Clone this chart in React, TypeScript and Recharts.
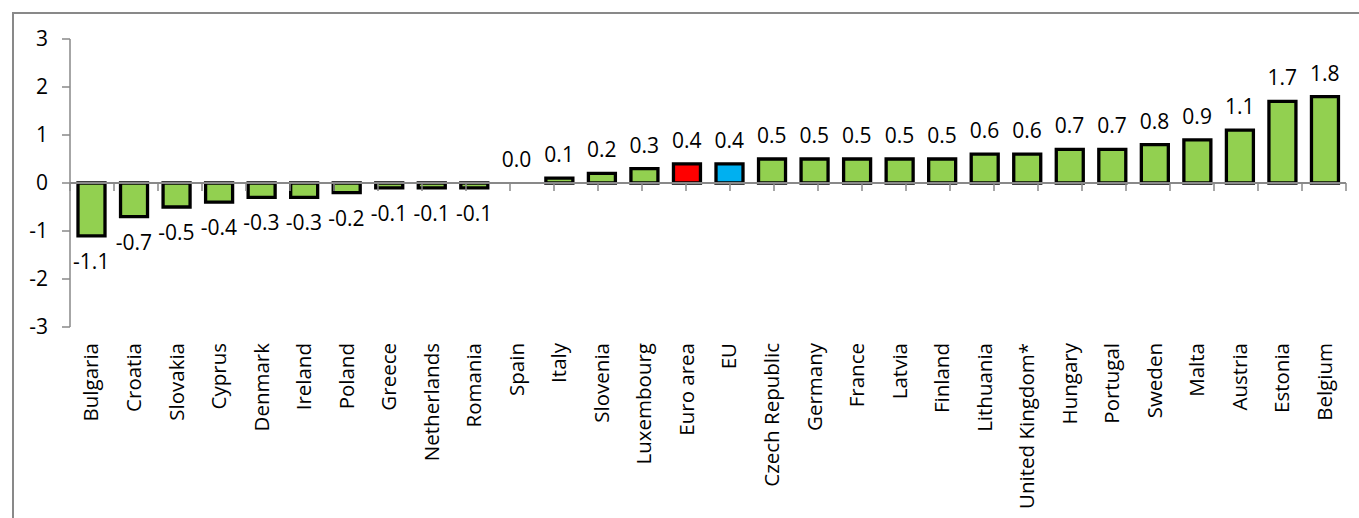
import React from 'react';
import { ComposedChart, Bar, Line, XAxis, YAxis, Cell, ReferenceLine } from 'recharts';

const categories = [
  'Bulgaria', 'Croatia', 'Slovakia', 'Cyprus', 'Denmark', 'Ireland', 'Poland', 'Greece',
  'Netherlands', 'Romania', 'Spain', 'Italy', 'Slovenia', 'Luxembourg', 'Euro area', 'EU',
  'Czech Republic', 'Germany', 'France', 'Latvia', 'Finland', 'Lithuania', 'United Kingdom*',
  'Hungary', 'Portugal', 'Sweden', 'Malta', 'Austria', 'Estonia', 'Belgium',
];
const values = [
  -1.1, -0.7, -0.5, -0.4, -0.3, -0.3, -0.2, -0.1,
  -0.1, -0.1, 0.0, 0.1, 0.2, 0.3, 0.4, 0.4,
  0.5, 0.5, 0.5, 0.5, 0.5, 0.6, 0.6,
  0.7, 0.7, 0.8, 0.9, 1.1, 1.7, 1.8,
];
const yTicks = [-3, -2, -1, 0, 1, 2, 3];
const highlightColors: Record<string, string> = { 'Euro area': '#FF0000', EU: '#00B0F0' };
const baseColor = '#92D050';

const data = categories.map((name, i) => ({ name, value: values[i] }));
const boundaries = Array.from({ length: categories.length + 1 }, (_, i) => i);

const FONT = '"Open Sans", "Noto Sans", sans-serif';
const AXIS = '#898989';
const TICK_LEN = 8 / 48;
const FS = 21;

function CategoryTick(props: any) {
  const { x, y, payload } = props;
  return (
    <text
      x={x}
      y={y}
      transform={`rotate(-90, ${x}, ${y})`}
      textAnchor="end"
      dy="0.35em"
      fontSize={20.5}
      fontFamily={FONT}
      fill="#000"
    >
      {payload.value}
    </text>
  );
}

function ValueLabel(props: any) {
  const x = Number(props.x);
  const y = Number(props.y);
  const value = Number(props.value);
  if (!isFinite(x) || !isFinite(y)) return null;
  const ty = value >= 0 ? y - 16 : y + 33;
  return (
    <text x={x} y={ty} textAnchor="middle" fontSize={FS} fontFamily={FONT} fill="#000">
      {value.toFixed(1)}
    </text>
  );
}

export default function App() {
  return (
    <div style={{ position: 'absolute', left: 0, top: 0, width: 1359, height: 518, overflow: 'hidden', background: '#fff' }}>
      <div
        style={{
          position: 'absolute',
          left: 12,
          top: 12,
          width: 2000,
          height: 2000,
          border: `2px solid ${AXIS}`,
          boxSizing: 'border-box',
        }}
      />
      <div style={{ position: 'absolute', left: 0, top: 0 }}>
        <ComposedChart
          width={1359}
          height={518}
          data={data}
          margin={{ top: 39, right: 13, bottom: 0, left: 0 }}
          barSize={27}
        >
          <XAxis
            dataKey="name"
            interval={0}
            height={191}
            axisLine={false}
            tickLine={false}
            tickSize={0}
            tickMargin={16}
            tick={<CategoryTick />}
          />
          <XAxis xAxisId="b" type="number" domain={[0, categories.length]} hide allowDataOverflow />
          <YAxis
            domain={[-3, 3]}
            ticks={yTicks}
            width={70}
            interval={0}
            allowDataOverflow
            axisLine={{ stroke: AXIS, strokeWidth: 1.5 }}
            tickLine={{ stroke: AXIS, strokeWidth: 1.5 }}
            tickSize={8}
            tickMargin={14}
            tick={{ fontSize: FS, fill: '#000', fontFamily: FONT }}
          />
          <ReferenceLine y={0} stroke={AXIS} strokeWidth={2} />
          {boundaries.map((b) => (
            <ReferenceLine
              key={b}
              xAxisId="b"
              segment={[{ x: b, y: 0 }, { x: b, y: -TICK_LEN }]}
              stroke={AXIS}
              strokeWidth={1.5}
            />
          ))}
          <Bar dataKey="value" isAnimationActive={false} stroke="#000" strokeWidth={3.3}>
            {data.map((d) => (
              <Cell key={d.name} fill={highlightColors[d.name] || baseColor} />
            ))}
          </Bar>
          <Line
            dataKey="value"
            stroke="none"
            dot={false}
            activeDot={false}
            isAnimationActive={false}
            label={<ValueLabel />}
          />
        </ComposedChart>
      </div>
    </div>
  );
}
